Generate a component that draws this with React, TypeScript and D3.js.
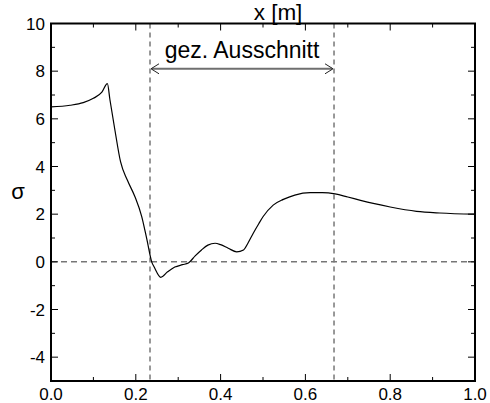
import React from "react";
import * as d3 from "d3";

const xs = [0, 0.045, 0.076, 0.1, 0.12, 0.133, 0.139, 0.151, 0.164, 0.18, 0.198, 0.214, 0.226, 0.2375, 0.2437, 0.259, 0.275, 0.292, 0.31, 0.324, 0.34, 0.355, 0.37, 0.387, 0.4, 0.418, 0.438, 0.454, 0.465, 0.477, 0.49, 0.5, 0.524, 0.548, 0.575, 0.611, 0.64, 0.67, 0.7, 0.73, 0.76, 0.8, 0.862, 0.917, 1.0];
const sigma = [6.5, 6.57, 6.68, 6.86, 7.12, 7.48, 6.8, 5.5, 4.2, 3.43, 2.73, 1.9, 0.95, 0.0, -0.23, -0.65, -0.42, -0.22, -0.12, -0.05, 0.25, 0.5, 0.7, 0.78, 0.72, 0.57, 0.42, 0.5, 0.8, 1.2, 1.6, 1.89, 2.38, 2.62, 2.8, 2.9, 2.9, 2.85, 2.72, 2.58, 2.45, 2.3, 2.12, 2.05, 2.0];

const xMajor = [0, 0.2, 0.4, 0.6, 0.8, 1.0];
const xMinor = [0.1, 0.3, 0.5, 0.7, 0.9];
const yMajor = [-4, -2, 0, 2, 4, 6, 8, 10];
const yMinor = [-5, -3, -1, 1, 3, 5, 7, 9];
const sectionBounds = [0.2335, 0.6675];
const arrowLevel = 8.1;
const annotation = "gez. Ausschnitt";
const xTitle = "x [m]";
const yTitle = "σ";

export default function App() {
  const W = 490, H = 403;
  const L = 51, R = 475, T = 23.5, B = 381;
  const x = d3.scaleLinear().domain([0, 1]).range([L, R]);
  const y = d3.scaleLinear().domain([-5, 10]).range([B, T]);
  const line = d3
    .line<number>()
    .x((_, i) => x(xs[i]))
    .y((d) => y(d))
    .curve(d3.curveMonotoneX);
  const font = "'Liberation Sans', Arial, sans-serif";
  const maj = 7, mn = 4;
  const ay = y(arrowLevel);
  const ax0 = x(sectionBounds[0]);
  const ax1 = x(sectionBounds[1]);
  return (
    <svg width={W} height={H} style={{ position: "absolute", left: 0, top: 0 }} fontFamily={font}>
      <rect width={W} height={H} fill="white" />
      {/* zero line */}
      <line x1={L} x2={R} y1={y(0)} y2={y(0)} stroke="#333" strokeWidth={1} strokeDasharray="6,4" />
      {/* section lines */}
      {sectionBounds.map((b, i) => (
        <line key={i} x1={x(b)} x2={x(b)} y1={T} y2={B} stroke="#777" strokeWidth={1.5} strokeDasharray="5,4" />
      ))}
      {/* curve */}
      <path d={line(sigma) || ""} fill="none" stroke="black" strokeWidth={1.2} />
      {/* arrow */}
      <line x1={ax0 + 2} x2={ax1 - 2} y1={ay} y2={ay} stroke="#6f6f6f" strokeWidth={2} />
      <polyline points={`${ax0 + 9},${ay - 5} ${ax0 + 1},${ay} ${ax0 + 9},${ay + 5}`} fill="none" stroke="#222" strokeWidth={1} />
      <polyline points={`${ax1 - 9},${ay - 5} ${ax1 - 1},${ay} ${ax1 - 9},${ay + 5}`} fill="none" stroke="#222" strokeWidth={1} />
      <text x={(ax0 + ax1) / 2} y={58} textAnchor="middle" fontSize={23} fill="black">{annotation}</text>
      {/* frame */}
      <rect x={L} y={T} width={R - L} height={B - T} fill="none" stroke="black" strokeWidth={2} />
      {/* x ticks */}
      {xMajor.map((v) => (
        <g key={"xm" + v}>
          <line x1={x(v)} x2={x(v)} y1={B} y2={B - maj} stroke="black" strokeWidth={1} />
          <line x1={x(v)} x2={x(v)} y1={T} y2={T + maj} stroke="black" strokeWidth={1} />
          <text x={x(v)} y={400} textAnchor="middle" fontSize={17} fill="black">{v.toFixed(1)}</text>
        </g>
      ))}
      {xMinor.map((v) => (
        <g key={"xn" + v}>
          <line x1={x(v)} x2={x(v)} y1={B} y2={B - mn} stroke="black" strokeWidth={1} />
          <line x1={x(v)} x2={x(v)} y1={T} y2={T + mn} stroke="black" strokeWidth={1} />
        </g>
      ))}
      {/* y ticks */}
      {yMajor.map((v) => (
        <g key={"ym" + v}>
          <line x1={L} x2={L + maj} y1={y(v)} y2={y(v)} stroke="black" strokeWidth={1} />
          <line x1={R} x2={R - maj} y1={y(v)} y2={y(v)} stroke="black" strokeWidth={1} />
          <text x={45} y={y(v) + 6} textAnchor="end" fontSize={17} fill="black">{String(v)}</text>
        </g>
      ))}
      {yMinor.map((v) => (
        <g key={"yn" + v}>
          <line x1={L} x2={L + mn} y1={y(v)} y2={y(v)} stroke="black" strokeWidth={1} />
          <line x1={R} x2={R - mn} y1={y(v)} y2={y(v)} stroke="black" strokeWidth={1} />
        </g>
      ))}
      {/* titles */}
      <text x={278} y={20} textAnchor="middle" fontSize={22.5} fill="black">{xTitle}</text>
      <text x={18} y={199} textAnchor="middle" fontSize={22} fill="black">{yTitle}</text>
    </svg>
  );
}
